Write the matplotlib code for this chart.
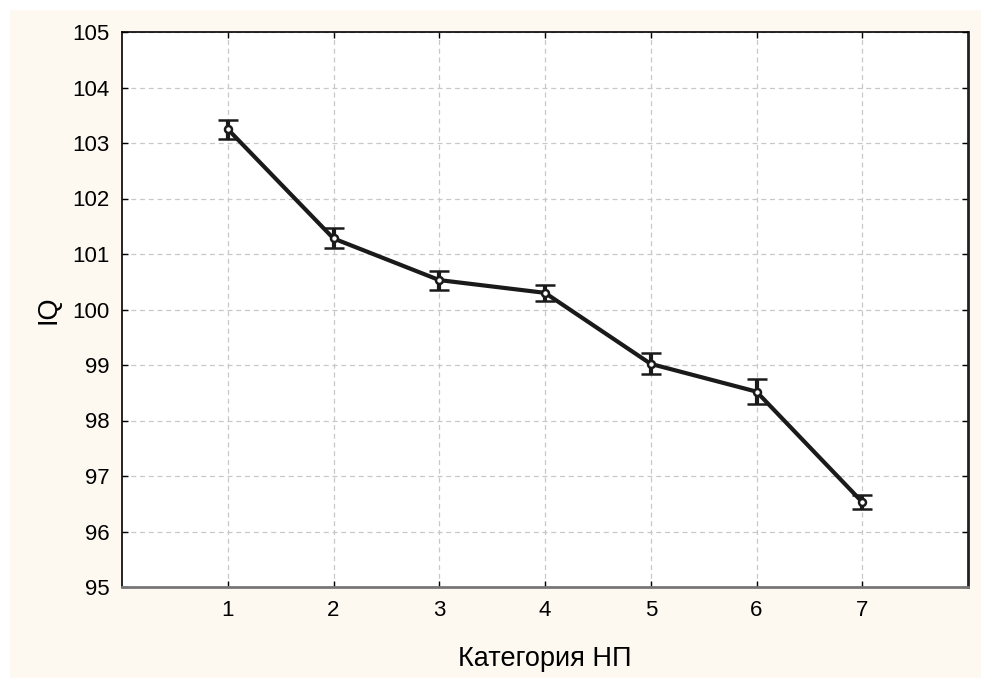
import matplotlib
matplotlib.use("Agg")
import matplotlib.pyplot as plt
from matplotlib.patches import Rectangle

# --- данные ---
categories = [1, 2, 3, 4, 5, 6, 7]
iq_mean = [103.25, 101.28, 100.53, 100.30, 99.02, 98.52, 96.53]
iq_err = [0.17, 0.18, 0.17, 0.15, 0.19, 0.23, 0.13]

plt.rcParams['font.family'] = ['Liberation Sans', 'DejaVu Sans']

fig = plt.figure(figsize=(9.81, 6.78), dpi=100)
fig.patch.set_facecolor('white')
# кремовый фон с белой полоской сверху и слева
fig.patches.append(Rectangle((10 / 981, 0), 1, 1 - 10 / 678, transform=fig.transFigure,
                             facecolor='#fdf9f1', edgecolor='none', zorder=-1))

ax = fig.add_axes([122 / 981, 91 / 678, 846 / 981, 555 / 678])
ax.set_facecolor('white')

ax.errorbar(categories, iq_mean, yerr=iq_err, color='#1a1a1a', linewidth=3,
            elinewidth=3, capsize=7, capthick=3.5, marker='o', markersize=5,
            markerfacecolor='white', markeredgecolor='#1a1a1a', markeredgewidth=1.8,
            zorder=3)

ax.set_xlim(0, 8)
ax.set_ylim(95, 105)
ax.set_xticks(categories)
ax.set_yticks(range(95, 106))
ax.tick_params(direction='in', length=4, width=1, labelsize=16, top=True, right=True,
               pad=9)
ax.grid(True, linestyle=(0, (4, 3)), color='#c8c8c8', linewidth=0.9)
ax.set_axisbelow(True)

for side in ['left', 'top']:
    ax.spines[side].set_color('black')
    ax.spines[side].set_linewidth(1.2)
ax.spines['right'].set_color('#222222')
ax.spines['right'].set_linewidth(2)
ax.spines['bottom'].set_color('#777777')
ax.spines['bottom'].set_linewidth(2)

ax.set_xlabel('Категория НП', fontsize=19.5, labelpad=18)
ax.set_ylabel('IQ', fontsize=19.5, labelpad=8)

fig.savefig('out.png', dpi=100, facecolor=fig.get_facecolor())
